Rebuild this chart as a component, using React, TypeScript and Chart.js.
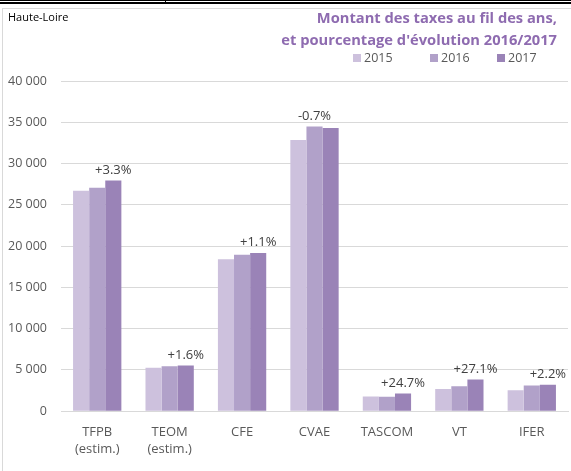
import React, { useEffect, useRef } from "react";
import { Chart, registerables } from "chart.js";

Chart.register(...registerables);

const categories: (string | string[])[] = [
  ["TFPB", "(estim.)"],
  ["TEOM", "(estim.)"],
  "CFE",
  "CVAE",
  "TASCOM",
  "VT",
  "IFER",
];
const years = ["2015", "2016", "2017"];
const values2015 = [26700, 5250, 18400, 32850, 1780, 2700, 2550];
const values2016 = [27070, 5450, 18950, 34500, 1740, 3030, 3100];
const values2017 = [27960, 5540, 19150, 34300, 2150, 3840, 3190];
const evolutionLabels = ["+3.3%", "+1.6%", "+1.1%", "-0.7%", "+24.7%", "+27.1%", "+2.2%"];
const yTicks = [0, 5000, 10000, 15000, 20000, 25000, 30000, 35000, 40000];
const titleLines = ["Montant des taxes au fil des ans,", "et pourcentage d'évolution 2016/2017"];

const colors = ["#cdc1dd", "#b1a1c9", "#9a83b7"];
const FONT = "'Open Sans', 'Noto Sans', sans-serif";

const fmt = (v: number) => {
  const s = String(Math.round(v));
  return s.replace(/\B(?=(\d{3})+(?!\d))/g, " ");
};

const labelPlugin = {
  id: "evoLabels",
  afterDatasetsDraw(chart: any) {
    const ctx = chart.ctx;
    ctx.save();
    ctx.font = `13px ${FONT}`;
    ctx.fillStyle = "#404040";
    ctx.textAlign = "center";
    ctx.textBaseline = "bottom";
    const n = chart.data.labels.length;
    for (let i = 0; i < n; i++) {
      let best: any = null;
      let bestVal = -Infinity;
      chart.data.datasets.forEach((ds: any, di: number) => {
        const v = ds.data[i];
        if (v > bestVal) {
          bestVal = v;
          best = chart.getDatasetMeta(di).data[i];
        }
      });
      if (best) ctx.fillText(evolutionLabels[i], best.x, best.y - 4);
    }
    ctx.restore();
  },
};

const headerPlugin = {
  id: "header",
  afterDraw(chart: any) {
    const ctx = chart.ctx;
    ctx.save();
    ctx.font = `bold 14.7px ${FONT}`;
    ctx.fillStyle = "#8e6bb0";
    ctx.textAlign = "right";
    ctx.textBaseline = "middle";
    ctx.fillText(titleLines[0], 557, 19);
    ctx.fillText(titleLines[1], 557, 41);
    ctx.font = `12.5px ${FONT}`;
    ctx.textAlign = "left";
    const starts = [353, 430, 497];
    chart.data.datasets.forEach((ds: any, i: number) => {
      const x = starts[i];
      ctx.fillStyle = ds.backgroundColor;
      ctx.fillRect(x, 54, 8, 8);
      ctx.fillStyle = "#595959";
      ctx.fillText(ds.label, x + 11, 58.5);
    });
    ctx.restore();
  },
};

export default function App() {
  const ref = useRef<HTMLCanvasElement | null>(null);
  useEffect(() => {
    if (!ref.current) return;
    const chart = new Chart(ref.current, {
      type: "bar",
      data: {
        labels: categories,
        datasets: [values2015, values2016, values2017].map((d, i) => ({
          label: years[i],
          data: d,
          backgroundColor: colors[i],
          borderWidth: 0,
          categoryPercentage: 0.667,
          barPercentage: 1.0,
        })),
      },
      options: {
        animation: false,
        responsive: false,
        maintainAspectRatio: false,
        layout: { padding: { left: 0, right: 3, top: 81, bottom: 8 } },
        plugins: {
          title: { display: false },
          legend: { display: false },
          tooltip: { enabled: false },
        },
        scales: {
          x: {
            grid: { display: false },
            border: { display: true, color: "#d9d9d9" },
            ticks: {
              color: "#595959",
              font: { family: FONT, size: 13, lineHeight: 1.3 },
              padding: 5,
              maxRotation: 0,
            },
          },
          y: {
            min: 0,
            max: 40000,
            afterFit: (s: any) => {
              s.width = 61;
            },
            afterBuildTicks: (s: any) => {
              s.ticks = yTicks.map((v) => ({ value: v }));
            },
            grid: { color: "#d9d9d9", drawTicks: false },
            border: { display: false },
            ticks: {
              color: "#595959",
              font: { family: FONT, size: 12.5 },
              padding: 14,
              callback: (v: any) => fmt(Number(v)),
            },
          },
        },
      },
      plugins: [labelPlugin, headerPlugin],
    } as any);
    return () => chart.destroy();
  }, []);

  return (
    <div style={{ position: "fixed", left: 0, top: 0, width: 571, height: 471, background: "#fff", overflow: "hidden" }}>
      <div style={{ position: "absolute", left: 0, top: 0, width: 571, height: 1, background: "#000" }} />
      <div style={{ position: "absolute", left: 165, top: 0, width: 1, height: 3, background: "#000" }} />
      <div style={{ position: "absolute", left: 0, top: 2, width: 571, height: 2, background: "#000" }} />
      <div style={{ position: "absolute", left: 2, top: 8, width: 575, height: 470, border: "1px solid #d9d9d9" }} />
      <canvas ref={ref} width={571} height={471} style={{ position: "absolute", left: 0, top: 0 }} />
      <div style={{ position: "absolute", left: 8, top: 9, fontFamily: FONT, fontSize: 11, color: "#000" }}>Haute-Loire</div>
    </div>
  );
}
